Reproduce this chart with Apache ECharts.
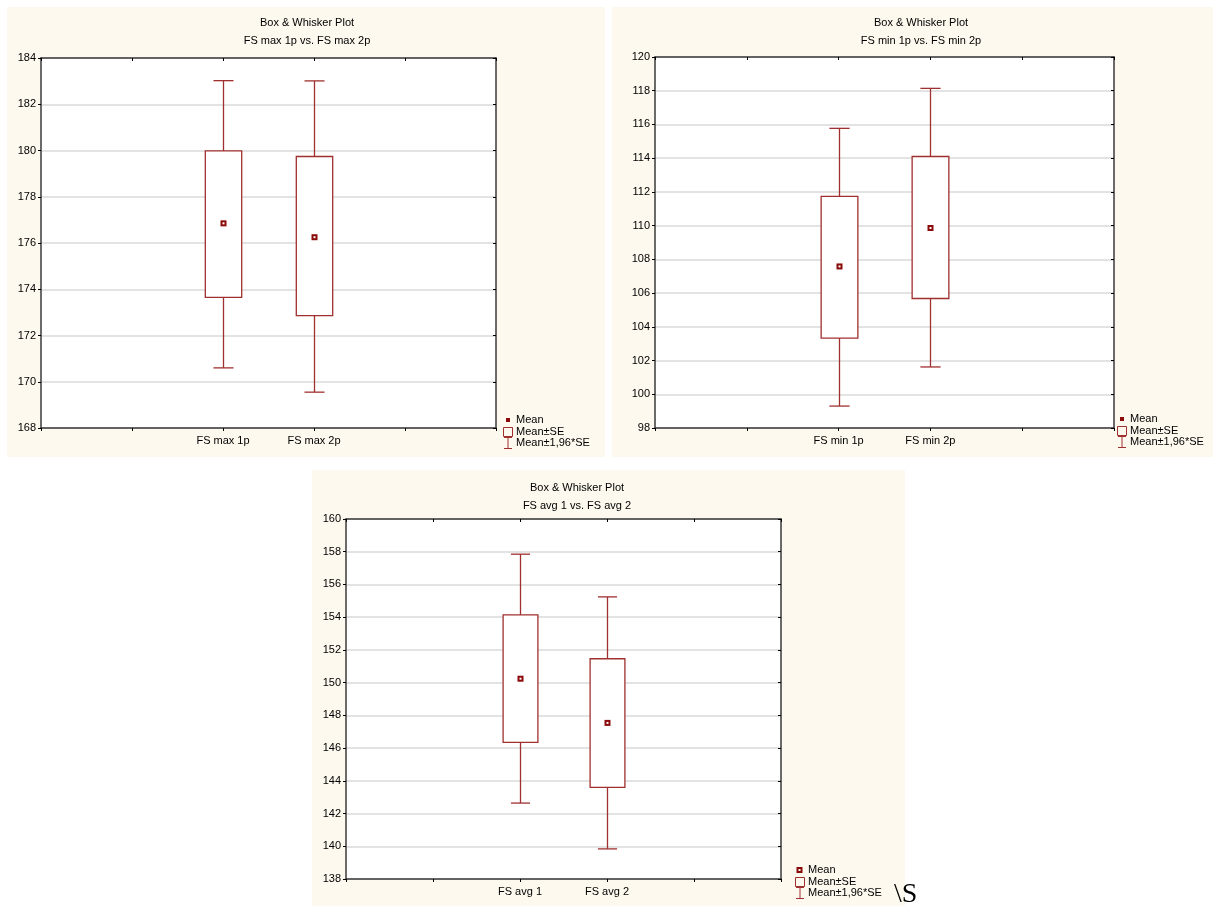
<!DOCTYPE html>
<html>
<head>
<meta charset="utf-8">
<script src="https://cdn.jsdelivr.net/npm/echarts@6/dist/echarts.min.js"></script>
<style>
html,body{margin:0;padding:0;background:#fff;}
#c{width:1215px;height:906px;}
</style>
</head>
<body>
<div id="c"></div>
<script>
// ---- data ----
const plotTitle = 'Box & Whisker Plot';
const subtitles = ['FS max 1p vs. FS max 2p', 'FS min 1p vs. FS min 2p', 'FS avg 1 vs. FS avg 2'];

const catsMax = ['FS max 1p', 'FS max 2p'];
const meanMax = [176.85, 176.25];
const seLowMax = [173.65, 172.86];
const seHighMax = [179.98, 179.74];
const ciLowMax = [170.60, 169.55];
const ciHighMax = [183.02, 183.01];

const catsMin = ['FS min 1p', 'FS min 2p'];
const meanMin = [107.58, 109.86];
const seLowMin = [103.33, 105.68];
const seHighMin = [111.73, 114.10];
const ciLowMin = [99.30, 101.62];
const ciHighMin = [115.77, 118.14];

const catsAvg = ['FS avg 1', 'FS avg 2'];
const meanAvg = [150.24, 147.54];
const seLowAvg = [146.35, 143.60];
const seHighAvg = [154.14, 151.46];
const ciLowAvg = [142.64, 139.84];
const ciHighAvg = [157.85, 155.24];

const yMinMax = [168, 184];
const yMinMin = [98, 120];
const yMinAvg = [138, 160];
const yInterval = 2;

const legendLabels = ['Mean', 'Mean±SE', 'Mean±1,96*SE'];

// ---- styling / layout ----
const RED = '#A0302F';
const DARK = '#8B0A0A';
const CREAM = '#FDF9EE';
const FRAME = '#3A3A3A';
const FONT = 'Liberation Sans';

const panels = [
  {cats: catsMax, mean: meanMax, seL: seLowMax, seH: seHighMax, ciL: ciLowMax, ciH: ciHighMax, y: yMinMax,
   bg: [7, 7, 598, 450], grid: {left: 41, top: 58, width: 455, height: 370}, titleX: 307, titleY: 17,
   legend: [503, 414], hollowMean: false},
  {cats: catsMin, mean: meanMin, seL: seLowMin, seH: seHighMin, ciL: ciLowMin, ciH: ciHighMin, y: yMinMin,
   bg: [612, 7, 601, 450], grid: {left: 655, top: 57, width: 459, height: 371}, titleX: 921, titleY: 17,
   legend: [1117, 413], hollowMean: false},
  {cats: catsAvg, mean: meanAvg, seL: seLowAvg, seH: seHighAvg, ciL: ciLowAvg, ciH: ciHighAvg, y: yMinAvg,
   bg: [312, 470, 593, 436], grid: {left: 346, top: 519, width: 435, height: 360}, titleX: 577, titleY: 482,
   legend: [795, 864], hollowMean: true}
];

const chart = echarts.init(document.getElementById('c'), null, {renderer: 'canvas'});

const grids = [], xAxes = [], yAxes = [], series = [], titles = [], graphics = [];

panels.forEach((p, k) => {
  graphics.push({type: 'rect', z: -10, shape: {x: p.bg[0], y: p.bg[1], width: p.bg[2], height: p.bg[3]}, style: {fill: CREAM}});
  graphics.push({type: 'rect', z: -9, shape: {x: p.grid.left, y: p.grid.top, width: p.grid.width, height: p.grid.height}, style: {fill: '#fff'}});
  grids.push(Object.assign({containLabel: false}, p.grid));
  titles.push({
    text: plotTitle, subtext: subtitles[k], left: p.titleX, top: p.titleY, textAlign: 'center', itemGap: 7, padding: 0,
    textStyle: {fontFamily: FONT, fontSize: 11, fontWeight: 'normal', color: '#000'},
    subtextStyle: {fontFamily: FONT, fontSize: 11, color: '#000'}
  });
  const cats = p.cats;
  const axisLine = {show: true, onZero: false, lineStyle: {color: FRAME, width: 1.5}};
  const tickIn = {show: true, inside: true, length: 3, lineStyle: {color: '#000'}};
  const tickOut = {show: true, inside: false, length: 3, lineStyle: {color: '#000'}};
  // bottom x
  xAxes.push({type: 'value', gridIndex: k, min: 0, max: cats.length + 3, interval: 1, position: 'bottom',
    axisLine, axisTick: tickOut, splitLine: {show: false},
    axisLabel: {fontFamily: FONT, fontSize: 11, color: '#000', margin: 7,
      formatter: v => (v >= 2 && v - 2 < cats.length) ? cats[v - 2] : ''}});
  // top x (frame)
  xAxes.push({type: 'value', gridIndex: k, min: 0, max: cats.length + 3, interval: 1, position: 'top',
    axisLine, axisTick: tickIn, splitLine: {show: false}, axisLabel: {show: false}});
  // left y
  yAxes.push({type: 'value', gridIndex: k, min: p.y[0], max: p.y[1], interval: yInterval, position: 'left',
    axisLine, axisTick: tickOut,
    splitLine: {show: true, lineStyle: {color: '#DADADA', width: 1.5}},
    axisLabel: {fontFamily: FONT, fontSize: 11, color: '#000', margin: 5}});
  // right y (frame)
  yAxes.push({type: 'value', gridIndex: k, min: p.y[0], max: p.y[1], interval: yInterval, position: 'right',
    axisLine, axisTick: tickIn, splitLine: {show: false}, axisLabel: {show: false}});

  const data = cats.map((c, i) => [i + 2, p.mean[i], p.seL[i], p.seH[i], p.ciL[i], p.ciH[i]]);
  series.push({
    type: 'custom', xAxisIndex: 2 * k, yAxisIndex: 2 * k, data, clip: false,
    renderItem: function (params, api) {
      const x = api.value(0);
      const pm = api.coord([x, api.value(1)]);
      const sl = api.coord([x, api.value(2)]);
      const sh = api.coord([x, api.value(3)]);
      const cl = api.coord([x, api.value(4)]);
      const ch = api.coord([x, api.value(5)]);
      const boxHalf = api.size([0.2, 0])[0];
      const capHalf = api.size([0.11, 0])[0];
      const cx = Math.round(pm[0]) + 0.5;
      const ls = {stroke: RED, lineWidth: 1.3, fill: null};
      const kids = [
        {type: 'line', shape: {x1: cx, y1: cl[1], x2: cx, y2: sl[1]}, style: ls},
        {type: 'line', shape: {x1: cx, y1: sh[1], x2: cx, y2: ch[1]}, style: ls},
        {type: 'line', shape: {x1: cx - capHalf, y1: cl[1], x2: cx + capHalf, y2: cl[1]}, style: ls},
        {type: 'line', shape: {x1: cx - capHalf, y1: ch[1], x2: cx + capHalf, y2: ch[1]}, style: ls},
        {type: 'rect', shape: {x: cx - boxHalf, y: sh[1], width: 2 * boxHalf, height: sl[1] - sh[1]},
          style: {stroke: RED, lineWidth: 1.3, fill: '#fff'}},
        {type: 'rect', shape: {x: cx - 3, y: pm[1] - 3, width: 6, height: 6}, style: {fill: DARK, stroke: null}},
        {type: 'rect', shape: {x: cx - 1, y: pm[1] - 1, width: 2, height: 2}, style: {fill: '#fff', stroke: null}}
      ];
      return {type: 'group', children: kids};
    }
  });

  // legend (drawn)
  const lx = p.legend[0], ly = p.legend[1];
  const rows = [ly + 6, ly + 18, ly + 29];
  const ts = {fontFamily: FONT, fontSize: 11, fill: '#000', textVerticalAlign: 'middle'};
  if (p.hollowMean) {
    graphics.push({type: 'rect', shape: {x: lx + 1.5, y: rows[0] - 3, width: 6, height: 6}, style: {fill: DARK}});
    graphics.push({type: 'rect', shape: {x: lx + 3.5, y: rows[0] - 1, width: 2, height: 2}, style: {fill: '#fff'}});
  } else {
    graphics.push({type: 'rect', shape: {x: lx + 3, y: rows[0] - 2, width: 4, height: 4}, style: {fill: DARK}});
  }
  graphics.push({type: 'rect', shape: {x: lx + 0.5, y: rows[1] - 4.5, width: 9, height: 9}, style: {fill: null, stroke: RED, lineWidth: 1}});
  graphics.push({type: 'polyline', shape: {points: [[lx + 1, rows[2] - 5.5], [lx + 9, rows[2] - 5.5]]}, style: {stroke: RED, lineWidth: 1}});
  graphics.push({type: 'polyline', shape: {points: [[lx + 5, rows[2] - 5.5], [lx + 5, rows[2] + 5.5]]}, style: {stroke: RED, lineWidth: 1}});
  graphics.push({type: 'polyline', shape: {points: [[lx + 1, rows[2] + 5.5], [lx + 9, rows[2] + 5.5]]}, style: {stroke: RED, lineWidth: 1}});
  legendLabels.forEach((t, i) => {
    graphics.push({type: 'text', x: lx + 13, y: rows[i], style: Object.assign({text: t}, ts)});
  });
});

graphics.push({type: 'text', x: 894, y: 881, style: {text: '\\S', fontFamily: 'Liberation Serif', fontSize: 28, fill: '#000'}});

chart.setOption({
  backgroundColor: '#fff',
  animation: false,
  title: titles,
  grid: grids,
  xAxis: xAxes,
  yAxis: yAxes,
  series: series,
  graphic: {elements: graphics}
});
</script>
</body>
</html>
